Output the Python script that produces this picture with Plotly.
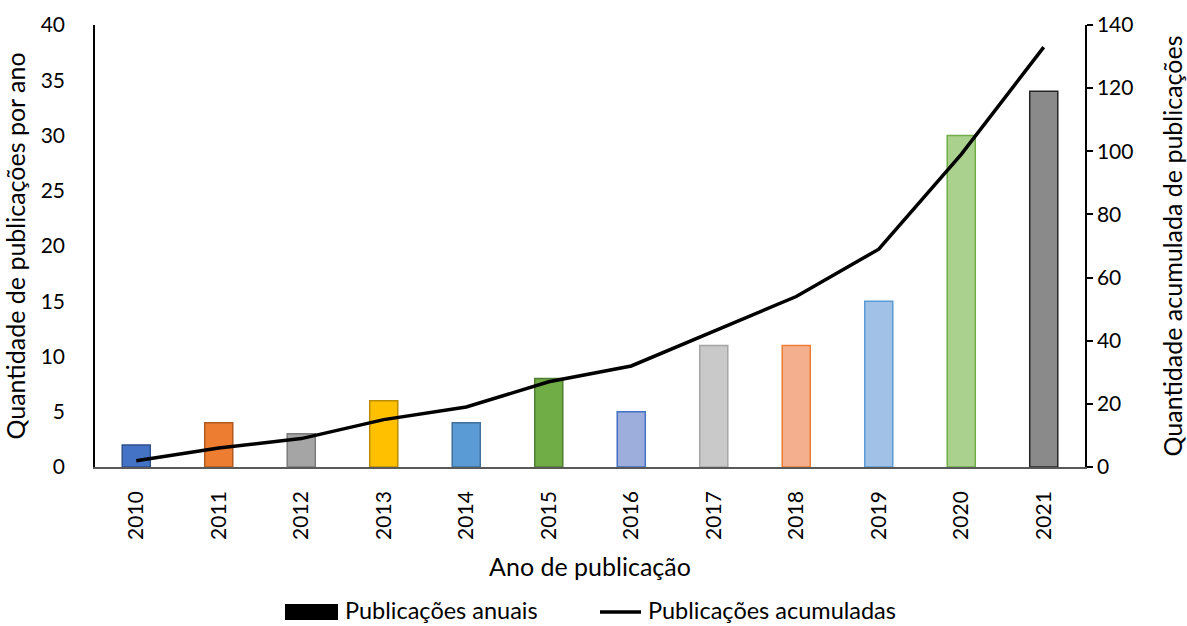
import plotly.graph_objects as go

years = ["2010", "2011", "2012", "2013", "2014", "2015", "2016", "2017", "2018", "2019", "2020", "2021"]
annual = [2, 4, 3, 6, 4, 8, 5, 11, 11, 15, 30, 34]
cumulative = [2, 6, 9, 15, 19, 27, 32, 43, 54, 69, 99, 133]

fill_colors = ["#4472C4", "#ED7D31", "#A5A5A5", "#FFC000", "#5B9BD5", "#70AD47",
               "#9DADDC", "#C9C9C9", "#F4B08E", "#A2C1E7", "#ABD18F", "#8A8A8A"]
line_colors = ["#2F528F", "#AE5A21", "#7B7B7B", "#BC8C00", "#41719C", "#507E32",
               "#4472C4", "#A5A5A5", "#ED7D31", "#5B9BD5", "#70AD47", "#262626"]

FONT = "Lato"
FS = 21
FS_LEG = 23.5

W, H = 1187, 626
L, R, T, B = 95, 102, 25, 159
PW, PH = W - L - R, H - T - B


def px(x):
    return (x - L) / PW


def py(y):
    return (H - B - y) / PH


fig = go.Figure()
fig.add_trace(go.Bar(
    x=years, y=annual, name="Publicações anuais", showlegend=False,
    marker=dict(color=fill_colors, line=dict(color=line_colors, width=1.5)),
    width=0.34,
))
fig.add_trace(go.Scatter(
    x=years, y=cumulative, name="Publicações acumuladas", yaxis="y2", showlegend=False,
    mode="lines", line=dict(color="black", width=3.5),
))

# custom legend (drawn in paper coordinates)
legend_y = 612
fig.add_shape(type="rect", xref="paper", yref="paper",
              x0=px(285), x1=px(338), y0=py(604), y1=py(620),
              fillcolor="black", line=dict(width=0))
fig.add_shape(type="line", xref="paper", yref="paper",
              x0=px(600), x1=px(641), y0=py(legend_y), y1=py(legend_y),
              line=dict(color="black", width=3.5))
fig.add_annotation(text="Publicações anuais", xref="paper", yref="paper",
                   x=px(344), y=py(legend_y - 2), xanchor="left", yanchor="middle",
                   showarrow=False, borderpad=0, font=dict(size=FS_LEG))
fig.add_annotation(text="Publicações acumuladas", xref="paper", yref="paper",
                   x=px(647), y=py(legend_y - 2), xanchor="left", yanchor="middle",
                   showarrow=False, borderpad=0, font=dict(size=FS_LEG))

fig.update_layout(
    width=W, height=H,
    margin=dict(l=L, r=R, t=T, b=B),
    paper_bgcolor="white", plot_bgcolor="white",
    font=dict(family=FONT, size=FS, color="black"),
    showlegend=False,
    xaxis=dict(
        type="category", tickangle=-90, showline=True, linecolor="#595959", linewidth=1.5,
        showgrid=False, ticks="", ticklabelstandoff=14, automargin=False,
        title=dict(text="Ano de publicação", standoff=20),
    ),
    yaxis=dict(
        range=[0, 40], dtick=5, showgrid=False, showline=True, linecolor="black", linewidth=1.5,
        ticks="", ticklabelstandoff=24, zeroline=False, automargin=False,
        title=dict(text="Quantidade de publicações por ano", standoff=22),
    ),
    yaxis2=dict(
        range=[0, 140], dtick=20, overlaying="y", side="right", showgrid=False,
        showline=True, linecolor="black", linewidth=1.5, ticks="outside", ticklen=6,
        tickcolor="black", tickwidth=1.5, zeroline=False, automargin=False,
        title=dict(text="Quantidade acumulada de publicações", standoff=34),
    ),
)

fig.write_html("out.html", config={"displayModeBar": False},
               post_script="document.body.style.margin='0';")
